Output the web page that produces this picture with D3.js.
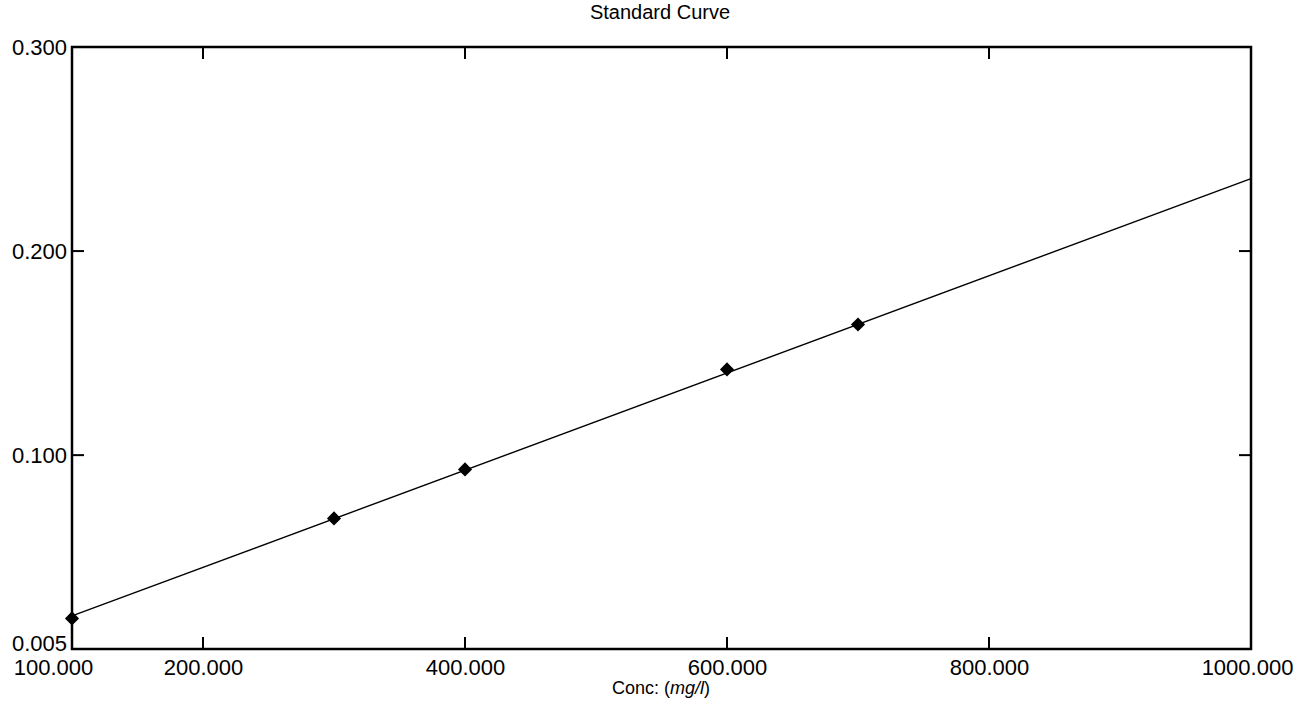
<!DOCTYPE html>
<html>
<head>
<meta charset="utf-8">
<script src="https://cdn.jsdelivr.net/npm/d3@7"></script>
<style>
  html, body { margin: 0; padding: 0; background: #fff; }
  svg { display: block; }
  text { font-family: "Liberation Sans", Arial, sans-serif; fill: #000; }
</style>
</head>
<body>
<svg id="chart" width="1297" height="711"></svg>
<script>
// ---- data ----
const concentrations = [100, 300, 400, 600, 700];          // mg/l
const absorbances    = [0.020, 0.069, 0.093, 0.142, 0.164];
const fitX = [100, 1000];
const fitY = [0.0212, 0.2355];
const xTickValues = [100, 200, 400, 600, 800, 1000];
const yTickValues = [0.005, 0.100, 0.200, 0.300];
const titleText = "Standard Curve";

// ---- layout ----
const svg = d3.select("#chart");
const plotLeft = 72, plotRight = 1251, plotTop = 47, plotBottom = 649;

const x = d3.scaleLinear().domain([100, 1000]).range([plotLeft, plotRight]);
const y = d3.scaleLinear().domain([0.005, 0.300]).range([plotBottom, plotTop]);

// frame
svg.append("rect")
  .attr("x", plotLeft).attr("y", plotTop)
  .attr("width", plotRight - plotLeft).attr("height", plotBottom - plotTop)
  .attr("fill", "none").attr("stroke", "#000").attr("stroke-width", 2.5);

// inner ticks
const innerX = xTickValues.filter(v => v > 100 && v < 1000);
const innerY = yTickValues.filter(v => v > 0.005 && v < 0.300);
const tickLen = 12;
svg.append("g").selectAll("line").data(innerX).join("line")
  .attr("x1", d => x(d)).attr("x2", d => x(d))
  .attr("y1", plotBottom).attr("y2", plotBottom - tickLen)
  .attr("stroke", "#000").attr("stroke-width", 2);
svg.append("g").selectAll("line").data(innerX).join("line")
  .attr("x1", d => x(d)).attr("x2", d => x(d))
  .attr("y1", plotTop).attr("y2", plotTop + tickLen)
  .attr("stroke", "#000").attr("stroke-width", 2);
svg.append("g").selectAll("line").data(innerY).join("line")
  .attr("x1", plotLeft).attr("x2", plotLeft + tickLen)
  .attr("y1", d => y(d)).attr("y2", d => y(d))
  .attr("stroke", "#000").attr("stroke-width", 2);
svg.append("g").selectAll("line").data(innerY).join("line")
  .attr("x1", plotRight).attr("x2", plotRight - tickLen)
  .attr("y1", d => y(d)).attr("y2", d => y(d))
  .attr("stroke", "#000").attr("stroke-width", 2);

// axis labels via d3 axes
const fmt = d3.format(".3f");
const xAxis = svg.append("g")
  .attr("transform", `translate(0,${plotBottom})`)
  .call(d3.axisBottom(x).tickValues(xTickValues).tickFormat(fmt).tickSize(0).tickPadding(10));
xAxis.select(".domain").remove();
xAxis.selectAll("text")
  .attr("font-size", 22)
  .attr("font-family", "Liberation Sans, Arial, sans-serif")
  .attr("dx", d => d === 100 ? -19 : (d === 1000 ? -4 : 0));

const yAxis = svg.append("g")
  .attr("transform", `translate(${plotLeft},0)`)
  .call(d3.axisLeft(y).tickValues(yTickValues).tickFormat(fmt).tickSize(0).tickPadding(5));
yAxis.select(".domain").remove();
yAxis.selectAll("text")
  .attr("font-size", 22)
  .attr("font-family", "Liberation Sans, Arial, sans-serif")
  .attr("dy", d => d === 0.005 ? "0.05em" : "0.32em");

// title
svg.append("text")
  .attr("x", 660).attr("y", 19)
  .attr("text-anchor", "middle")
  .attr("font-size", 20)
  .text(titleText);

// x axis title
const xt = svg.append("text")
  .attr("x", 661).attr("y", 694)
  .attr("text-anchor", "middle")
  .attr("font-size", 18);
xt.append("tspan").text("Conc: (");
xt.append("tspan").attr("font-style", "italic").text("mg/l");
xt.append("tspan").text(")");

// fit line
const line = d3.line().x(d => x(d[0])).y(d => y(d[1]));
svg.append("path")
  .datum(fitX.map((v, i) => [v, fitY[i]]))
  .attr("d", line)
  .attr("fill", "none").attr("stroke", "#000").attr("stroke-width", 1.4);

// markers
const diamond = d3.symbol().type(d3.symbolSquare).size(100);
svg.append("g").selectAll("path").data(concentrations.map((v, i) => [v, absorbances[i]])).join("path")
  .attr("d", diamond)
  .attr("transform", d => `translate(${x(d[0])},${y(d[1])}) rotate(45)`)
  .attr("fill", "#000");
</script>
</body>
</html>
